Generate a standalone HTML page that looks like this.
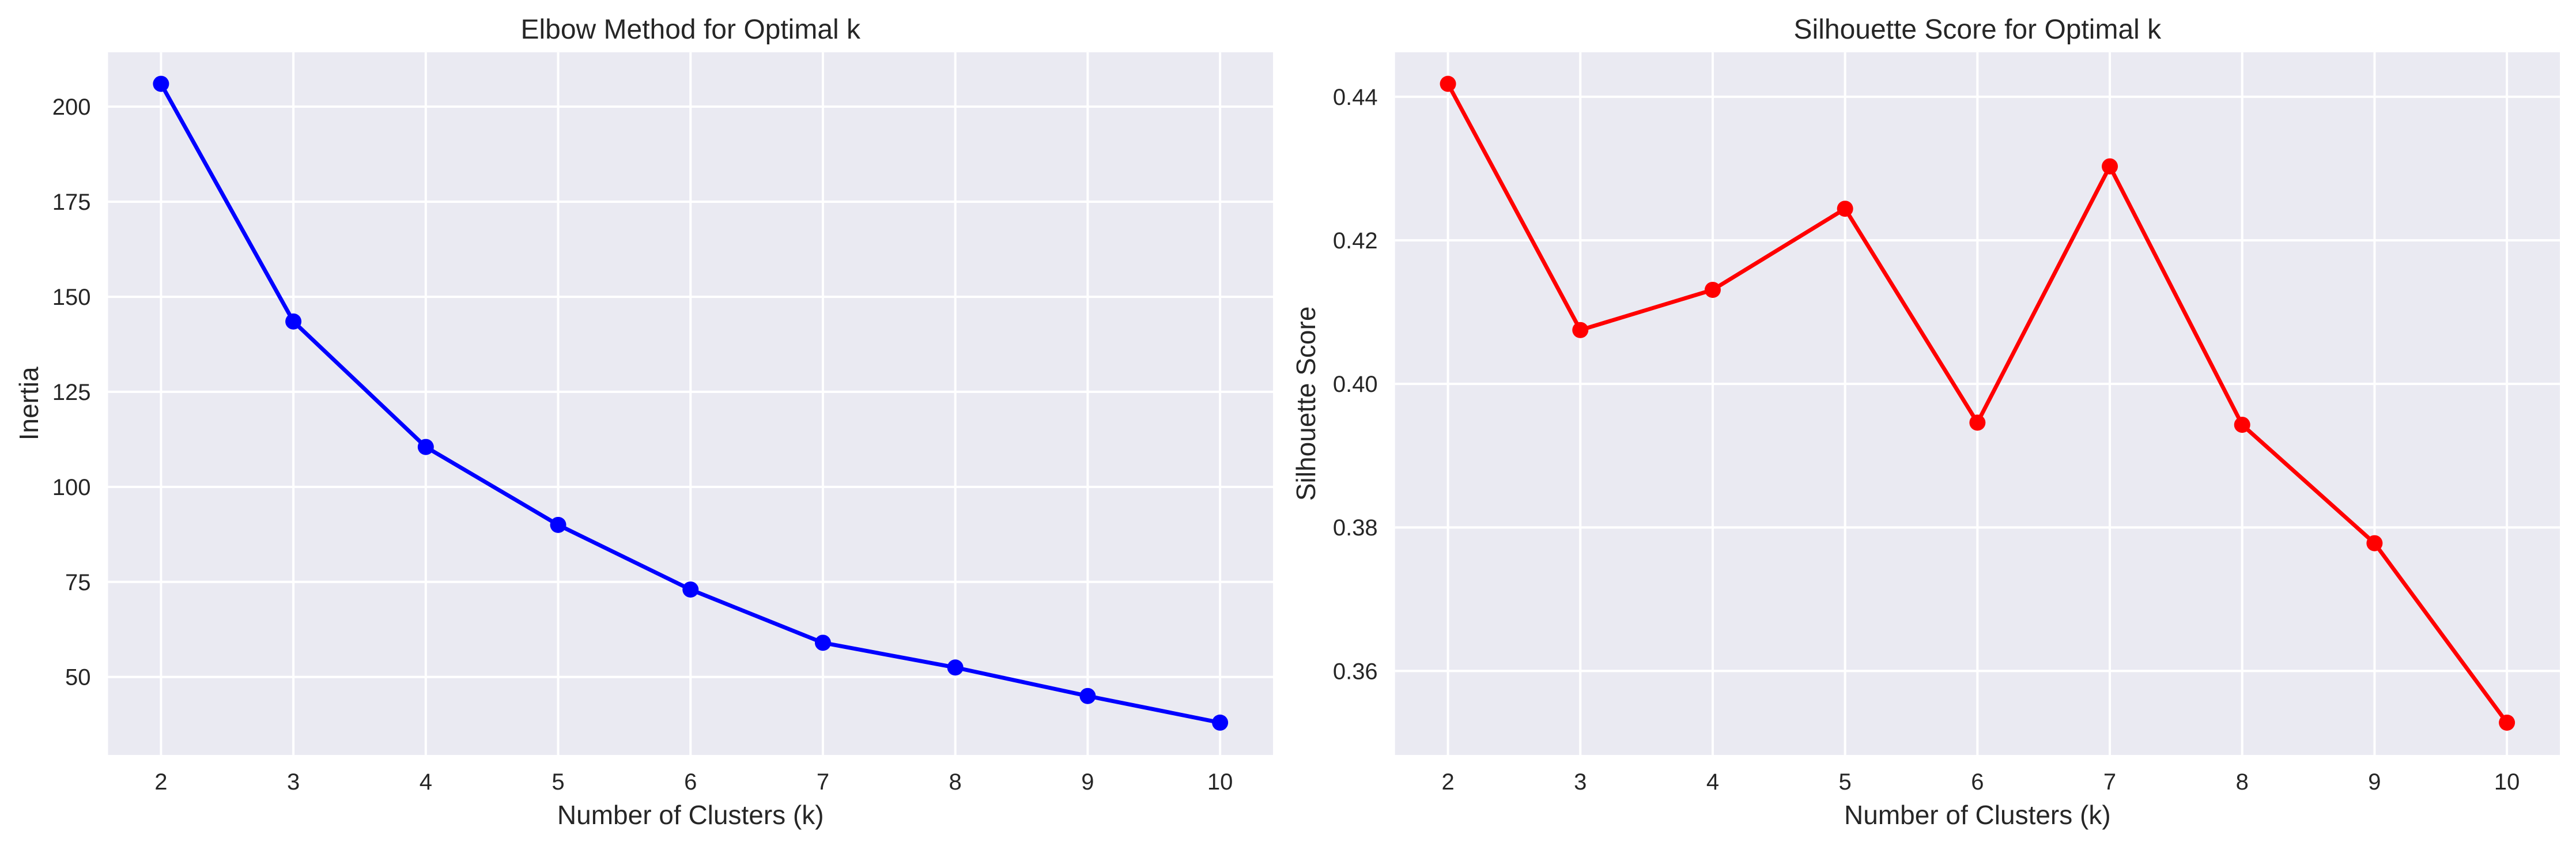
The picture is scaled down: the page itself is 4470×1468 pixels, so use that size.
<!DOCTYPE html>
<html><head><meta charset="utf-8"><style>
html,body{margin:0;padding:0;background:#fff;}
svg{display:block;font-family:"Liberation Sans",Arial,sans-serif;}
</style></head><body>
<svg id="fig" width="4470" height="1468" viewBox="0 0 4470 1468" xmlns="http://www.w3.org/2000/svg">
<rect x="0" y="0" width="4470" height="1468" fill="#ffffff"/>
<g id="p1"></g>
<g id="p2"></g>
</svg>
<script>
const kValues = [2,3,4,5,6,7,8,9,10];
const inertiaValues = [206,143.5,110.5,90,73,59,52.5,45,38];
const silhouetteValues = [0.4418,0.4075,0.4131,0.4244,0.3946,0.4303,0.3943,0.3778,0.3528];
const inertiaTicks = [50,75,100,125,150,175,200];
const inertiaTickLabels = ["50","75","100","125","150","175","200"];
const silTicks = [0.36,0.38,0.40,0.42,0.44];
const silTickLabels = ["0.36","0.38","0.40","0.42","0.44"];
const xTickLabels = ["2","3","4","5","6","7","8","9","10"];

const NS="http://www.w3.org/2000/svg";
function mk(tag, attrs, parent){const e=document.createElementNS(NS,tag);for(const k in attrs)e.setAttribute(k,attrs[k]);parent.appendChild(e);return e;}

function panel(g, box, xDom, yDom, vals, yTicks, yLabels, color, title, ylabel, ylabelX, prefix){
  const sx=v=>box.l+(v-xDom[0])/(xDom[1]-xDom[0])*(box.r-box.l);
  const sy=v=>box.b-(v-yDom[0])/(yDom[1]-yDom[0])*(box.b-box.t);
  const bg=mk('rect',{x:box.l,y:box.t,width:box.r-box.l,height:box.b-box.t,fill:'#eaeaf2'},g);
  
  
  kValues.forEach((k,i)=>{
    const x=sx(k);
    const gl=mk('line',{x1:x,x2:x,y1:box.t,y2:box.b,stroke:'#fff','stroke-width':4},g);
    
    
    const t=mk('text',{x:x,y:1370,'text-anchor':'middle','font-size':40,fill:'#262626'},g);
    t.textContent=xTickLabels[i];
    
    
  });
  yTicks.forEach((v,i)=>{
    const y=sy(v);
    const gl=mk('line',{x1:box.l,x2:box.r,y1:y,y2:y,stroke:'#fff','stroke-width':4},g);
    
    
    const t=mk('text',{x:box.l-30,y:y+14,'text-anchor':'end','font-size':40,fill:'#262626'},g);
    t.textContent=yLabels[i];
    
    
  });
  const pts=kValues.map((k,i)=>sx(k)+','+sy(vals[i])).join(' ');
  const pl=mk('polyline',{points:pts,fill:'none',stroke:color,'stroke-width':7,'stroke-linejoin':'round'},g);
  
  
  kValues.forEach((k,i)=>{
    const c=mk('circle',{cx:sx(k),cy:sy(vals[i]),r:14,fill:color},g);
    
    
  });
  const tt=mk('text',{x:(box.l+box.r)/2,y:67,'text-anchor':'middle','font-size':48,fill:'#262626'},g);
  tt.textContent=title;
  
  
  const xl=mk('text',{x:(box.l+box.r)/2,y:1430,'text-anchor':'middle','font-size':46,fill:'#262626'},g);
  xl.textContent='Number of Clusters (k)';
  
  
  const yc=(box.t+box.b)/2;
  const yl=mk('text',{x:ylabelX,y:yc,'text-anchor':'middle','font-size':46,fill:'#262626',transform:'rotate(-90 '+ylabelX+' '+yc+')'},g);
  yl.textContent=ylabel;
  
  
}
panel(document.getElementById('p1'),{l:187.5,r:2209,t:90.7,b:1310},[1.6,10.4],[29.5,214.3],inertiaValues,inertiaTicks,inertiaTickLabels,'#0000ff','Elbow Method for Optimal k','Inertia',66,'elbow');
panel(document.getElementById('p2'),{l:2420.7,r:4442,t:90.7,b:1310},[1.6,10.4],[0.3483,0.4462],silhouetteValues,silTicks,silTickLabels,'#ff0000','Silhouette Score for Optimal k','Silhouette Score',2282,'silhouette');
</script>
</body></html>
